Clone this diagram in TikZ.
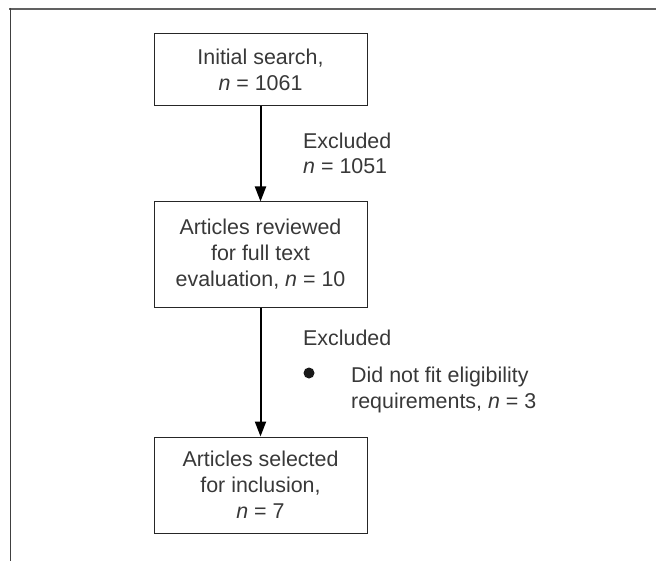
\documentclass[tikz,border=0pt]{standalone}
\usepackage{fontspec}
\setmainfont{Liberation Sans}
\usetikzlibrary{arrows.meta}
\begin{document}
\begin{tikzpicture}[x=1bp,y=-1bp,
  font=\fontsize{21.5}{26}\selectfont,
  box/.style={draw=black!85, line width=1bp, minimum width=213bp, inner sep=0pt, align=center, text=black!78},
  lbl/.style={anchor=base west, inner sep=0pt, text=black!78},
  arr/.style={line width=2bp, -{Triangle[length=15bp,width=11bp]}},
  bullet/.style={circle, fill=black!90, minimum size=11bp, inner sep=0pt}]
\useasboundingbox (0,0) rectangle (656,561);
\draw[line width=2.2bp, draw=black!62] (9,9) -- (656,9);
\draw[line width=1bp, draw=black!75] (10,8) -- (10,561);
\node[box, minimum height=72bp] (b1) at (260.5,70) {Initial search,\\\textit{n} = 1061};
\node[box, minimum height=105bp] (b2) at (260.5,254.5) {Articles reviewed\\for full text\\evaluation, \textit{n} = 10};
\node[box, minimum height=96bp] (b3) at (260.5,485) {Articles selected\\for inclusion,\\\textit{n} = 7};
\draw[arr] (b1) -- (b2);
\draw[arr] (b2) -- (b3);
\node[lbl] (e1) at (303,149) {Excluded};
\node[lbl] (n1) at (303,174) {\textit{n} = 1051};
\node[lbl] (e2) at (303,345) {Excluded};
\node[bullet] (bu) at (309,373) {};
\node[lbl] (d1) at (351,382) {Did not fit eligibility};
\node[lbl] (d2) at (351,408) {requirements, \textit{n} = 3};
\end{tikzpicture}
\end{document}
